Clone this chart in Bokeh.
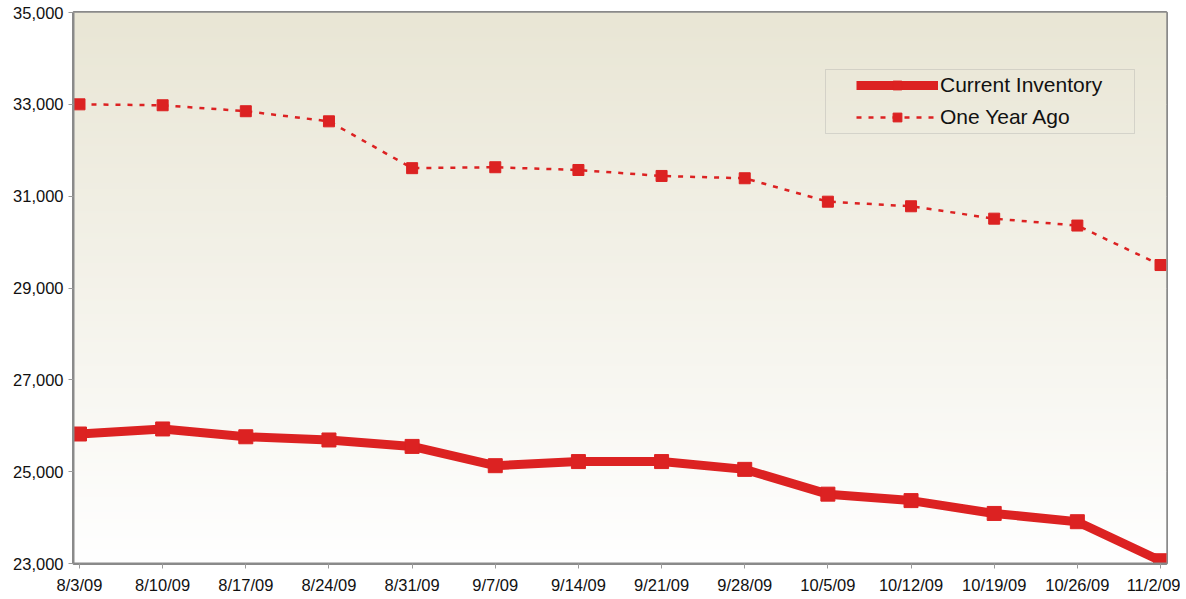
import numpy as np
from bokeh.plotting import figure
from bokeh.models import FixedTicker, Legend, LegendItem, Range1d, NumeralTickFormatter, BoxAnnotation
from bokeh.embed import file_html
from bokeh.resources import INLINE

dates = ["8/3/09", "8/10/09", "8/17/09", "8/24/09", "8/31/09", "9/7/09", "9/14/09",
         "9/21/09", "9/28/09", "10/5/09", "10/12/09", "10/19/09", "10/26/09", "11/2/09"]
current_inventory = [25820, 25930, 25760, 25690, 25550, 25130, 25220,
                     25220, 25050, 24510, 24370, 24090, 23910, 23060]
one_year_ago = [33000, 32980, 32850, 32630, 31610, 31630, 31570,
                31440, 31390, 30880, 30780, 30510, 30360, 29500]
y_ticks = [23000, 25000, 27000, 29000, 31000, 33000, 35000]

xs = list(range(len(dates)))
RED = "#DC2222"
x0, x1 = -0.072, len(dates) - 1 + 0.072
y0, y1 = 23000, 35000

p = figure(width=1180, height=596, output_backend="svg", toolbar_location=None,
           x_range=Range1d(x0, x1), y_range=Range1d(y0, y1),
           min_border_left=73, min_border_right=14, min_border_top=12, min_border_bottom=32)
p.background_fill_color = "white"
p.border_fill_color = "white"
p.outline_line_color = "#8A8A8A"
p.outline_line_width = 3

# gradient background
n = 256
t = np.linspace(0, 1, n)
top = np.array([233, 230, 213])
bot = np.array([255, 255, 255])
img = np.empty((n, 1), dtype=np.uint32)
view = img.view(dtype=np.uint8).reshape((n, 1, 4))
for c in range(3):
    view[:, 0, c] = (bot[c] + (top[c] - bot[c]) * t).astype(np.uint8)
view[:, 0, 3] = 255
p.image_rgba(image=[img], x=x0, y=y0, dw=x1 - x0, dh=y1 - y0)

# grid
p.xgrid.grid_line_color = None
p.ygrid.grid_line_color = "#BDBDBD"
p.ygrid.grid_line_width = 1
p.yaxis.ticker = FixedTicker(ticks=y_ticks)
p.xaxis.ticker = FixedTicker(ticks=xs)
p.xaxis.major_label_overrides = {i: d for i, d in enumerate(dates)}
p.yaxis.formatter = NumeralTickFormatter(format="0,0")

for ax in (p.xaxis[0], p.yaxis[0]):
    ax.axis_line_color = "#8A8A8A"
    ax.axis_line_width = 2
    ax.major_tick_line_color = "#9A9A9A"
    ax.major_tick_out = 5
    ax.major_tick_in = 0
    ax.minor_tick_line_color = None
    ax.major_label_text_font = "Liberation Sans"
    ax.major_label_text_font_size = "16.5px"
    ax.major_label_text_color = "#111111"
p.yaxis.major_label_standoff = 5
p.xaxis.major_label_standoff = 7

l1 = p.line(xs, current_inventory, line_color=RED, line_width=9, line_join="round")
s1 = p.scatter(xs, current_inventory, marker="square", size=14, fill_color=RED, line_color=RED)
l2 = p.line(xs, one_year_ago, line_color=RED, line_width=2.5, line_dash="5 7")
s2 = p.scatter(xs, one_year_ago, marker="square", size=11, fill_color=RED, line_color=RED)

# legend frame
box = BoxAnnotation(left=825, right=1134, top=69, bottom=133,
                    left_units="canvas", right_units="canvas",
                    top_units="canvas", bottom_units="canvas",
                    fill_alpha=0, line_color="#9A9A9A", line_width=1)
p.add_layout(box)

legend = Legend(items=[LegendItem(label="Current Inventory", renderers=[l1, s1]),
                       LegendItem(label="One Year Ago", renderers=[l2, s2])],
                location=(777, 428))
legend.label_text_font = "Liberation Sans"
legend.label_text_font_size = "21px"
legend.label_text_color = "#111111"
legend.glyph_width = 82
legend.glyph_height = 22
legend.label_standoff = 2
legend.padding = 6
legend.spacing = 8
legend.margin = 0
legend.border_line_alpha = 0
legend.background_fill_alpha = 0
p.add_layout(legend, "center")

open("out.html", "w").write(file_html(p, INLINE))
